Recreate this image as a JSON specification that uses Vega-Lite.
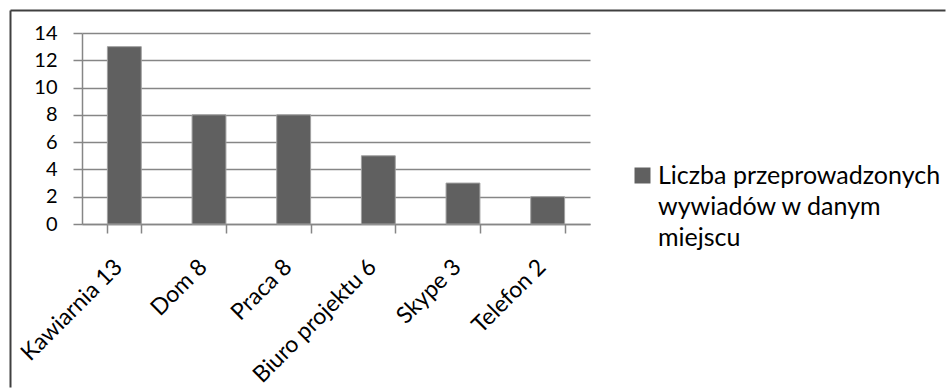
{
  "$schema": "https://vega.github.io/schema/vega-lite/v6.json",
  "width": 935,
  "height": 377,
  "autosize": {"type": "none"},
  "padding": {"left": 10, "top": 10, "right": 2, "bottom": 3},
  "background": "white",
  "config": {
    "view": {"stroke": null},
    "font": "Lato",
    "style": {"guide-label": {"lineHeight": 31}}
  },
  "data": {
    "values": [
      {"miejsce": "Kawiarnia 13", "liczba": 13, "seria": "Liczba przeprowadzonych wywiadów w danym miejscu"},
      {"miejsce": "Dom 8", "liczba": 8, "seria": "Liczba przeprowadzonych wywiadów w danym miejscu"},
      {"miejsce": "Praca 8", "liczba": 8, "seria": "Liczba przeprowadzonych wywiadów w danym miejscu"},
      {"miejsce": "Biuro projektu 6", "liczba": 5, "seria": "Liczba przeprowadzonych wywiadów w danym miejscu"},
      {"miejsce": "Skype 3", "liczba": 3, "seria": "Liczba przeprowadzonych wywiadów w danym miejscu"},
      {"miejsce": "Telefon 2", "liczba": 2, "seria": "Liczba przeprowadzonych wywiadów w danym miejscu"}
    ]
  },
  "layer": [
    {
      "mark": {"type": "bar", "stroke": "#a0a0a0", "strokeWidth": 1},
      "encoding": {
        "x": {
          "field": "miejsce",
          "type": "nominal",
          "sort": null,
          "scale": {"range": [72, 580], "paddingInner": 0.6, "paddingOuter": 0.3},
          "axis": {
            "title": null,
            "orient": "bottom",
            "offset": -163,
            "labelAngle": -45,
            "labelAlign": "right",
            "labelBaseline": "middle",
            "labelFontSize": 23,
            "labelColor": "black",
            "labelPadding": 30,
            "labelOffset": -6,
            "tickBand": "extent",
            "tickSize": 9,
            "tickColor": "#868686",
            "tickWidth": 1.5,
            "domainColor": "#868686",
            "domainWidth": 1.5,
            "grid": false
          }
        },
        "y": {
          "field": "liczba",
          "type": "quantitative",
          "scale": {"domain": [0, 14], "range": [214, 23], "nice": false},
          "axis": {
            "title": null,
            "orient": "left",
            "offset": -72,
            "values": [0, 2, 4, 6, 8, 10, 12, 14],
            "labelFontSize": 20,
            "labelColor": "black",
            "labelPadding": 16,
            "tickSize": 9,
            "tickColor": "#868686",
            "tickWidth": 1.5,
            "domainColor": "#868686",
            "domainWidth": 1.5,
            "grid": true,
            "gridColor": "#868686",
            "gridWidth": 1.5
          }
        },
        "color": {
          "field": "seria",
          "type": "nominal",
          "scale": {"range": ["#606060"]},
          "legend": {
            "orient": "none",
            "legendX": 620,
            "legendY": 153,
            "title": null,
            "symbolType": "square",
            "symbolSize": 256,
            "symbolStrokeWidth": 0,
            "labelFontSize": 25,
            "labelColor": "black",
            "labelLimit": 0,
            "labelOffset": 3,
            "labelExpr": "['Liczba przeprowadzonych', 'wywiadów w danym', 'miejscu']"
          }
        }
      }
    },
    {
      "mark": {"type": "point", "opacity": 0},
      "encoding": {
        "x": {
          "field": "liczba",
          "type": "quantitative",
          "scale": {"domain": [0, 20], "range": [0, 935]},
          "axis": {
            "title": null,
            "orient": "top",
            "offset": 0,
            "labels": false,
            "ticks": false,
            "grid": false,
            "domainColor": "#404040",
            "domainWidth": 2
          }
        },
        "y": {
          "field": "liczba",
          "type": "quantitative",
          "scale": {"domain": [0, 20], "range": [377, 0]},
          "axis": {
            "title": null,
            "orient": "left",
            "offset": 0,
            "labels": false,
            "ticks": false,
            "grid": false,
            "domainColor": "#404040",
            "domainWidth": 2
          }
        }
      }
    }
  ],
  "resolve": {
    "scale": {"x": "independent", "y": "independent"},
    "axis": {"x": "independent", "y": "independent"}
  }
}
